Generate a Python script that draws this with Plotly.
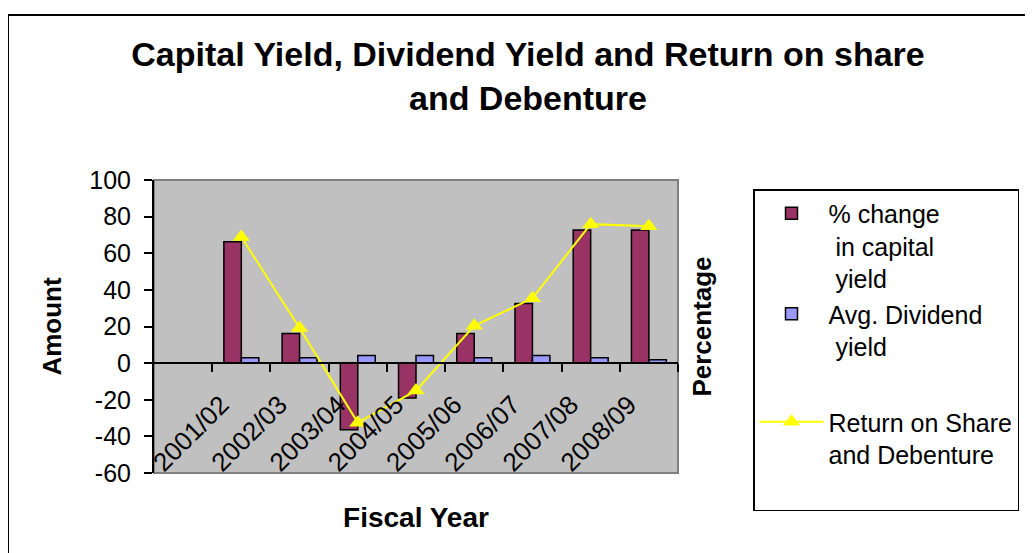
import plotly.graph_objects as go

categories = ["2001/02", "2002/03", "2003/04", "2004/05", "2005/06", "2006/07", "2007/08", "2008/09"]
capital_yield = [66.3, 16.2, -36.4, -19.0, 16.2, 32.6, 72.7, 72.7]
dividend_yield = [2.9, 2.9, 4.2, 4.2, 2.9, 4.2, 2.9, 1.8]
return_share = [68.9, 19.2, -32.5, -15.0, 20.4, 35.4, 75.9, 74.8]
y_ticks = [-60, -40, -20, 0, 20, 40, 60, 80, 100]
y_tick_text = ["-60", "-40", "-20", "0", "20", "40", "60", "80", "100"]

Y_MIN, Y_MAX = -60, 100
FONT = "Liberation Sans, Arial, sans-serif"
OFF = 8  # page body margin

# target plot area (page pixels): x 154..678, y 180..473
PL, PR, PT, PB = 154 - OFF, 678 - OFF, 180 - OFF, 473 - OFF
PW, PH = PR - PL, PB - PT

def px(x):
    return (x - OFF - PL) / PW

def py(y):
    return (PB - (y - OFF)) / PH

fig = go.Figure()
fig.add_trace(go.Bar(
    x=categories, y=capital_yield,
    name="% change<br>\u00a0in capital<br>\u00a0yield",
    marker=dict(color="#993366", line=dict(color="black", width=1.5)),
    legendgroup="a",
))
fig.add_trace(go.Bar(
    x=categories, y=dividend_yield,
    name="Avg. Dividend<br>\u00a0yield",
    marker=dict(color="#9999FF", line=dict(color="black", width=1.5)),
    legendgroup="a",
))
fig.add_trace(go.Scatter(
    x=categories, y=return_share,
    name="Return on Share<br>and Debenture<br>\u00a0",
    mode="lines+markers",
    line=dict(color="#FFFF00", width=2),
    marker=dict(symbol="triangle-up", size=15, color="#FFFF00"),
    legendgroup="b",
    yaxis="y2",
))

zero_pos = (0 - Y_MIN) / (Y_MAX - Y_MIN)

fig.update_layout(
    width=1033, height=553,
    margin=dict(l=PL, r=1033 - PR, t=PT, b=553 - PB, autoexpand=False),
    paper_bgcolor="white",
    plot_bgcolor="#C0C0C0",
    font=dict(family=FONT, color="black", size=24),
    barmode="group", bargap=0.4, bargroupgap=0,
    title=dict(
        text="<b>Capital Yield, Dividend Yield and Return on share<br>and Debenture</b>",
        font=dict(family=FONT, size=34, color="black"),
        x=(528 - OFF) / 1033, xanchor="center", xref="container",
        y=1 - (66 - OFF) / 553, yanchor="middle", yref="container",
    ),
    xaxis=dict(
        type="category",
        categoryorder="array", categoryarray=categories,
        range=[-1.5, len(categories) - 0.5],
        anchor="free", position=zero_pos,
        showline=True, linecolor="black", linewidth=2,
        ticks="outside", ticklen=8, tickwidth=2, tickcolor="black",
        tickson="boundaries",
        tickangle=-45,
        tickfont=dict(family=FONT, size=26),
        ticklabelstandoff=15, ticklabelshift=-20,
        showgrid=False, zeroline=False,
        title=dict(text="<b>Fiscal Year</b>", font=dict(family=FONT, size=28), standoff=30),
    ),
    yaxis=dict(
        range=[Y_MIN, Y_MAX], tickvals=y_ticks, ticktext=y_tick_text,
        showline=True, linecolor="black", linewidth=2,
        ticks="outside", ticklen=8, tickwidth=2, tickcolor="black",
        tickfont=dict(family=FONT, size=25),
        ticklabelstandoff=8,
        showgrid=False, zeroline=False,
        title=dict(text="<b>Amount</b>", font=dict(family=FONT, size=26), standoff=20),
    ),
    yaxis2=dict(
        overlaying="y", side="right", matches="y",
        showticklabels=False, ticks="", showline=False, showgrid=False, zeroline=False,
        title=dict(text="<b>Percentage</b>", font=dict(family=FONT, size=26), standoff=14),
    ),
    legend=dict(
        x=px(753), xanchor="left",
        y=py(189), yanchor="top",
        bgcolor="white", bordercolor="black", borderwidth=1.5,
        font=dict(family=FONT, size=25, color="black"),
        valign="top", itemwidth=64, tracegroupgap=40,
        traceorder="grouped", maxheight=500,
    ),
    showlegend=True,
    shapes=[
        dict(type="rect", xref="paper", yref="paper", x0=0, x1=1, y0=0, y1=1,
             line=dict(color="#808080", width=2), layer="below"),
        dict(type="rect", xref="paper", yref="paper",
             x0=px(8), x1=2.0, y0=py(15), y1=-1.0,
             line=dict(color="black", width=2), fillcolor="rgba(0,0,0,0)", layer="below"),
    ],
)

fig.write_html("out.html")
